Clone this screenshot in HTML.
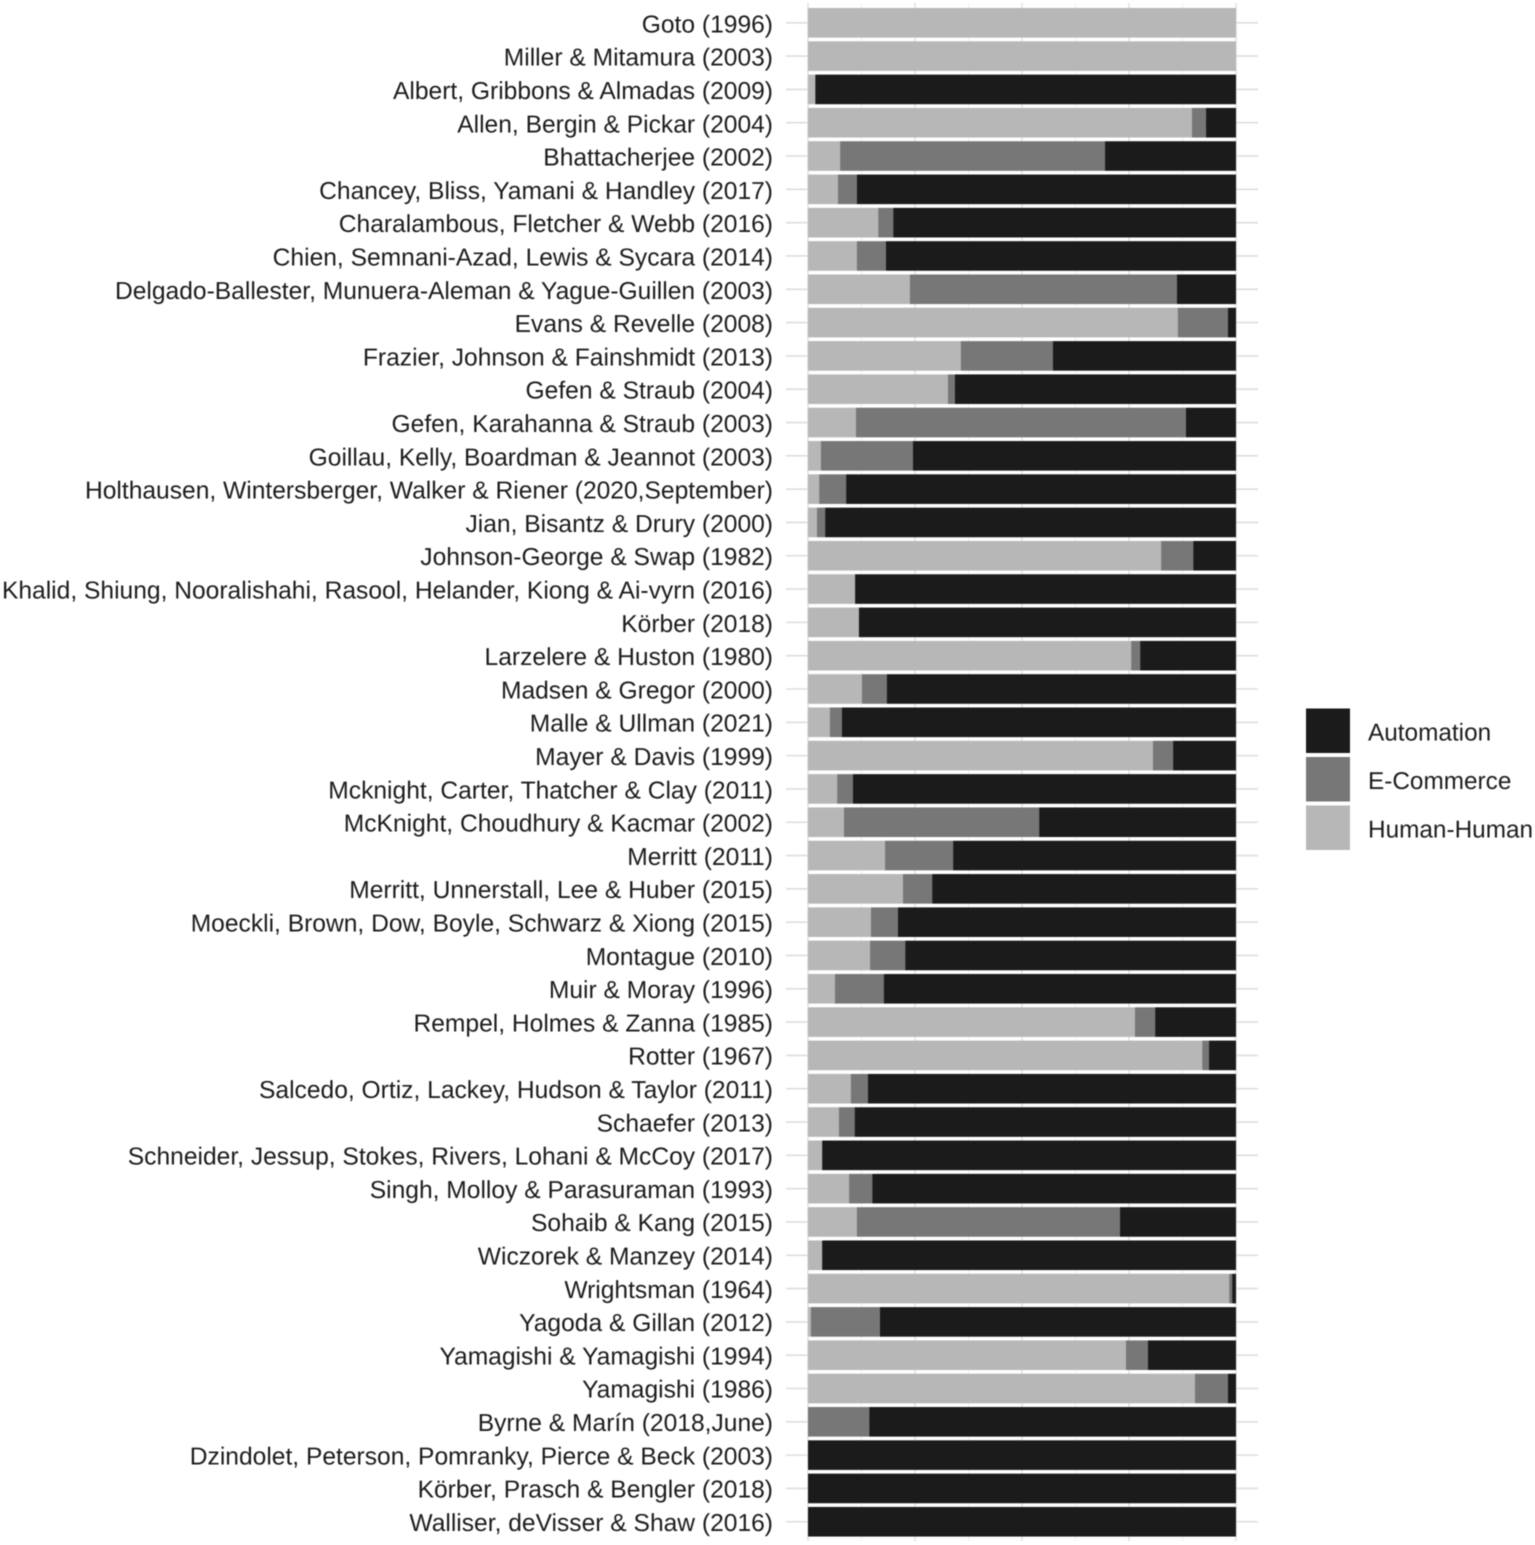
<!DOCTYPE html>
<html lang="en">
<head>
<meta charset="utf-8">
<title>Stacked bar chart of trust scale sources</title>
<style>
html,body{margin:0;padding:0;background:#fff;}
svg{display:block;filter:blur(0.45px);}
text{font-family:"Liberation Sans",Arial,sans-serif;fill:#1c1c1c;text-rendering:geometricPrecision;}
</style>
</head>
<body>
<svg id="chart" xmlns="http://www.w3.org/2000/svg" width="1535" height="1545" viewBox="0 0 1535 1545">
<rect x="0" y="0" width="1535" height="1545" fill="#fff"/>
<g id="grid"></g>
<g id="bars"></g>
<g id="labels"></g>
<g id="legend"></g>
</svg>
<script>
const categories = [
"Goto (1996)","Miller & Mitamura (2003)","Albert, Gribbons & Almadas (2009)","Allen, Bergin & Pickar (2004)",
"Bhattacherjee (2002)","Chancey, Bliss, Yamani & Handley (2017)","Charalambous, Fletcher & Webb (2016)",
"Chien, Semnani-Azad, Lewis & Sycara (2014)","Delgado-Ballester, Munuera-Aleman & Yague-Guillen (2003)",
"Evans & Revelle (2008)","Frazier, Johnson & Fainshmidt (2013)","Gefen & Straub (2004)",
"Gefen, Karahanna & Straub (2003)","Goillau, Kelly, Boardman & Jeannot (2003)",
"Holthausen, Wintersberger, Walker & Riener (2020,September)","Jian, Bisantz & Drury (2000)",
"Johnson-George & Swap (1982)","Khalid, Shiung, Nooralishahi, Rasool, Helander, Kiong & Ai-vyrn (2016)",
"Körber (2018)","Larzelere & Huston (1980)","Madsen & Gregor (2000)","Malle & Ullman (2021)","Mayer & Davis (1999)",
"Mcknight, Carter, Thatcher & Clay (2011)","McKnight, Choudhury & Kacmar (2002)","Merritt (2011)",
"Merritt, Unnerstall, Lee & Huber (2015)","Moeckli, Brown, Dow, Boyle, Schwarz & Xiong (2015)","Montague (2010)",
"Muir & Moray (1996)","Rempel, Holmes & Zanna (1985)","Rotter (1967)","Salcedo, Ortiz, Lackey, Hudson & Taylor (2011)",
"Schaefer (2013)","Schneider, Jessup, Stokes, Rivers, Lohani & McCoy (2017)","Singh, Molloy & Parasuraman (1993)",
"Sohaib & Kang (2015)","Wiczorek & Manzey (2014)","Wrightsman (1964)","Yagoda & Gillan (2012)",
"Yamagishi & Yamagishi (1994)","Yamagishi (1986)","Byrne & Marín (2018,June)",
"Dzindolet, Peterson, Pomranky, Pierce & Beck (2003)","Körber, Prasch & Bengler (2018)","Walliser, deVisser & Shaw (2016)"
];
const humanHuman = [100,100,1.7,89.7,7.5,7,16.4,11.4,23.8,86.4,35.7,32.7,11.2,3,2.6,2.1,82.5,11,11.9,75.5,12.6,5.1,80.6,6.8,8.4,18,22.2,14.7,14.5,6.3,76.4,92.1,10,7.2,3.3,9.6,11.4,3.3,98.4,0.7,74.3,90.4,0,0,0,0];
const eCommerce = [0,0,0,3.3,61.9,4.4,3.5,6.8,62.4,11.7,21.5,1.6,77.1,21.5,6.3,1.9,7.5,0,0,2.1,5.8,2.8,4.7,3.7,45.6,15.9,6.8,6.3,8.2,11.4,4.7,1.6,4,3.7,0,5.4,61.5,0,0.7,16.1,5.1,7.7,14.3,0,0,0];
const automation = [0,0,98.3,7,30.6,88.6,80.1,81.8,13.8,1.9,42.8,65.7,11.7,75.5,91.1,96,10,89,88.1,22.4,81.6,92.1,14.7,89.5,46,66.1,71,79,77.3,82.3,18.9,6.3,86,89.1,96.7,85,27.1,96.7,0.9,83.2,20.6,1.9,85.7,100,100,100];
const xGridValues = [0,12.5,25,37.5,50,62.5,75,87.5,100];
const legendLabels = ["Automation","E-Commerce","Human-Human"];

const SVG_NS = "http://www.w3.org/2000/svg";
const xScale = v => 808 + v * 4.28;
const yScale = i => 22.8 + i * 33.31;
const labelBaseline = i => 32.4 + i * 33.3;
const barHeight = 29.6;
const colors = { automation: "#1b1b1b", eCommerce: "#777777", humanHuman: "#b7b7b7" };

function make(tag, attrs, parent) {
  const el = document.createElementNS(SVG_NS, tag);
  for (const k in attrs) el.setAttribute(k, attrs[k]);
  parent.appendChild(el);
  return el;
}

const gridG = document.getElementById("grid");
const barsG = document.getElementById("bars");
const labelsG = document.getElementById("labels");
const legendG = document.getElementById("legend");

xGridValues.forEach(v => {
  const major = v % 25 === 0;
  const line = make("line", { x1: xScale(v), x2: xScale(v), y1: 3, y2: 1541, stroke: major ? "#e3e3e3" : "#eeeeee", "stroke-width": major ? 1.6 : 1 }, gridG);
  
  
});

categories.forEach((name, i) => {
  const y = yScale(i);
  const rowLine = make("line", { x1: 786, x2: 1258, y1: y, y2: y, stroke: "#dddddd", "stroke-width": 1.6 }, gridG);
  
  

  const label = make("text", { x: 773, y: labelBaseline(i), "text-anchor": "end", "font-size": 24.6 }, labelsG);
  label.textContent = name;
  
  

  const h = humanHuman[i], e = eCommerce[i], a = automation[i];
  const top = y - barHeight / 2;
  if (h > 0) {
    const r = make("rect", { x: xScale(0), y: top, width: xScale(h) - xScale(0), height: barHeight, fill: colors.humanHuman }, barsG);
    
    
  }
  if (e > 0) {
    const r = make("rect", { x: xScale(h), y: top, width: xScale(h + e) - xScale(h), height: barHeight, fill: colors.eCommerce }, barsG);
    
    
  }
  if (a > 0) {
    const r = make("rect", { x: xScale(h + e), y: top, width: xScale(h + e + a) - xScale(h + e), height: barHeight, fill: colors.automation }, barsG);
    
    
  }
});

const legendFills = [colors.automation, colors.eCommerce, colors.humanHuman];
legendLabels.forEach((name, i) => {
  const top = 708.5 + i * 48.5;
  const sw = make("rect", { x: 1306, y: top, width: 44, height: 44.5, fill: legendFills[i] }, legendG);
  
  
  const t = make("text", { x: 1368, y: top + 32, "font-size": 24.35 }, legendG);
  t.textContent = name;
  
  
});
</script>
</body>
</html>
